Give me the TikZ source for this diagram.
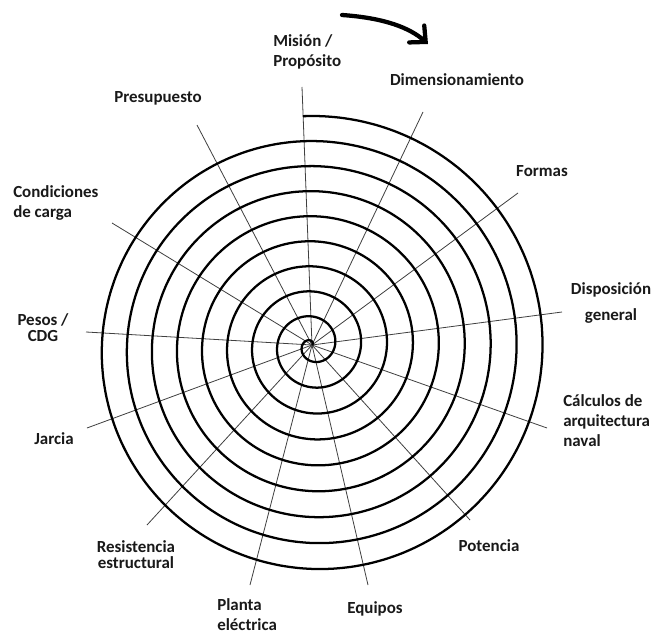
\documentclass[tikz,border=0pt]{standalone}
\usepackage{fontspec}
\setmainfont{Carlito}
\usetikzlibrary{arrows.meta}

\tikzset{
  lbl/.style={font=\bfseries\fontsize{12.7}{15}\selectfont, inner sep=0pt, text=black!90},
  spoke/.style={line width=0.6pt, draw=black!75},
  spiral/.style={line width=1.7pt, line join=round},
  turnarrow/.style={line width=3.2pt, line cap=round, -{Straight Barb[length=9pt,width=17pt,line cap=round]}},
}

\begin{document}
\begin{tikzpicture}[x=0.75pt,y=0.75pt,yscale=-1,xscale=1]
    \useasboundingbox (0,0) rectangle (653,635);
    \path[fill=white] (0,0) rectangle (653,635);

    % Spoke ends
    \coordinate (ctr) at (312,345);
    \coordinate (mision-e) at (302,87);
    \coordinate (dimens-e) at (423,112);
    \coordinate (formas-e) at (518,193);
    \coordinate (dispos-e) at (562,312);
    \coordinate (calc-e) at (547,428);
    \coordinate (potencia-e) at (470,520);
    \coordinate (equipos-e) at (368,585);
    \coordinate (planta-e) at (250,585);
    \coordinate (resist-e) at (147,525);
    \coordinate (jarcia-e) at (87,428);
    \coordinate (pesos-e) at (86,332);
    \coordinate (cond-e) at (112,223);
    \coordinate (presup-e) at (197,125);

    %Straight Lines
    \foreach \s in {mision,dimens,formas,dispos,calc,potencia,equipos,planta,resist,jarcia,pesos,cond,presup}
      \draw[spoke] (ctr) -- (\s-e);

    %Shape: Spiral
    \draw[spiral] plot[domain=-3.2:3289, samples=720, smooth, variable=\t]
      ({312+4*(1-\t/3289)+(233-\t/360*25.5)*cos(90-\t)}, {345+4*(1-\t/3289)-(233-\t/360*25.5)*sin(90-\t)});

    %Curve Lines
    \coordinate (giro-a) at (342,15);
    \coordinate (giro-b) at (428,44);
    \draw[turnarrow] (giro-a) .. controls (385,18) and (410,28) .. (giro-b);

    % Text Node
    \node[lbl, align=left, anchor=west] (mision) at (273,52) {Misión /\\Propósito};
    % Text Node
    \node[lbl] (dimens) at (457,80) {Dimensionamiento};
    % Text Node
    \node[lbl] (formas) at (542,171) {Formas};
    % Text Node
    \node[lbl, align=center] (dispos) at (611,303) {Disposición\\[5pt]general};
    % Text Node
    \node[lbl, align=left, anchor=west] (calc) at (563,421) {Cálculos de\\arquitectura\\naval};
    % Text Node
    \node[lbl] (potencia) at (489,546) {Potencia};
    % Text Node
    \node[lbl] (equipos) at (375,609) {Equipos};
    % Text Node
    \node[lbl, align=left, anchor=west] (planta) at (217,615) {Planta\\eléctrica};
    % Text Node
    \node[lbl, align=center] (resist) at (136,555) {Resistencia\\[-3pt]estructural};
    % Text Node
    \node[lbl] (jarcia) at (54,439) {Jarcia};
    % Text Node
    \node[lbl, align=center] (pesos) at (43,328) {Pesos /\\[-3pt]CDG};
    % Text Node
    \node[lbl, align=left, anchor=west] (cond) at (13,203) {Condiciones\\de carga};
    % Text Node
    \node[lbl] (presup) at (158,98) {Presupuesto};

\end{tikzpicture}
\end{document}
